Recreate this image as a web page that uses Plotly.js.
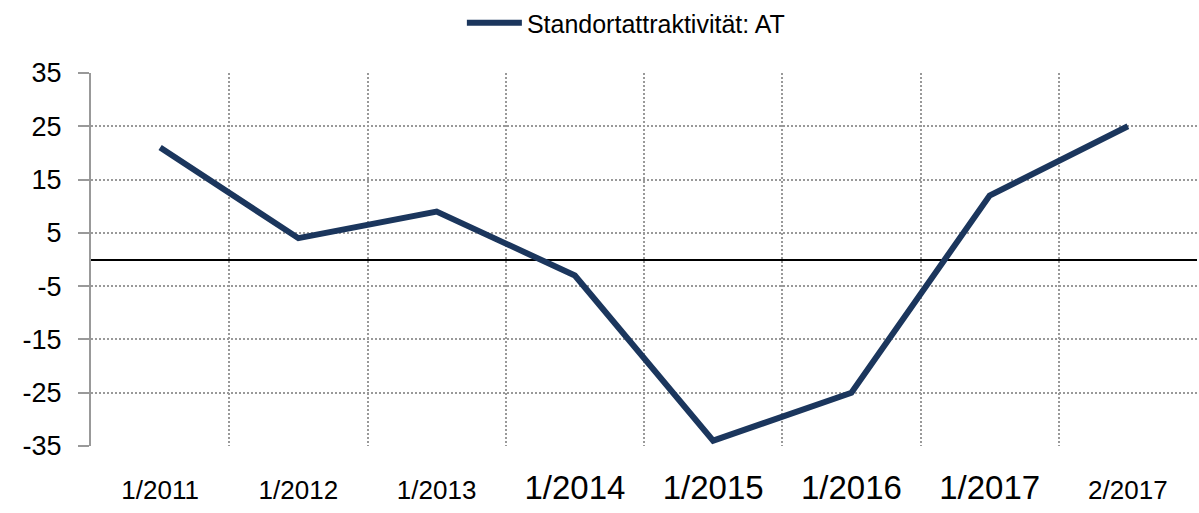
<!DOCTYPE html>
<html><head><meta charset="utf-8">
<script src="https://cdn.plot.ly/plotly-3.0.1.min.js"></script>
<style>body{margin:0;background:#fff}#chart{width:1199px;height:513px}</style>
</head><body><div id="chart"></div>
<script>
const categories = ["1/2011","1/2012","1/2013","1/2014","1/2015","1/2016","1/2017","2/2017"];
const values = [21, 4, 9, -3, -34, -25, 12, 25];
const seriesName = "Standortattraktivität: AT";
const bigLabels = ["1/2014","1/2015","1/2016","1/2017"];
const yTicks = [-35,-25,-15,-5,5,15,25,35];
const yTickText = ["-35","-25","-15","-5","5","15","25","35"];

const tickText = categories.map(c => bigLabels.includes(c) ? '<span style="font-size:33px">' + c + '</span>' : c);
const FONT = '"Liberation Sans", Arial, sans-serif';

Plotly.newPlot('chart', [{
  x: categories, y: values, name: seriesName, type: 'scatter', mode: 'lines',
  line: {color: '#1B365D', width: 6}
}], {
  width: 1199, height: 513,
  margin: {l: 91, r: 2, t: 73, b: 67},
  paper_bgcolor: '#fff', plot_bgcolor: '#fff',
  font: {family: FONT, color: '#000'},
  showlegend: true,
  legend: {orientation: 'h', x: 0.522, xanchor: 'center', xref: 'container', y: 1, yanchor: 'top', yref: 'container',
           font: {size: 25, family: FONT}, itemwidth: 55},
  xaxis: {type: 'category', range: [-0.5, 7.5], tickson: 'boundaries', tickvals: categories, ticktext: tickText,
          showgrid: true, gridcolor: '#999', griddash: '2px,2px', gridwidth: 1.5,
          ticks: '', showline: false, zeroline: false, tickfont: {size: 26, family: FONT},
          ticklabelstandoff: 26, automargin: false},
  yaxis: {range: [-35, 35], tickvals: yTicks, ticktext: yTickText, showgrid: true, gridcolor: '#999', griddash: '2px,2px', gridwidth: 1.5,
          zeroline: true, zerolinecolor: '#000', zerolinewidth: 2,
          showline: true, linecolor: '#999', linewidth: 2, ticks: 'outside', ticklen: 11, tickcolor: '#999', tickwidth: 2,
          tickfont: {size: 27, family: FONT}, ticklabelstandoff: 11, automargin: false}
}, {displayModeBar: false});
</script></body></html>
